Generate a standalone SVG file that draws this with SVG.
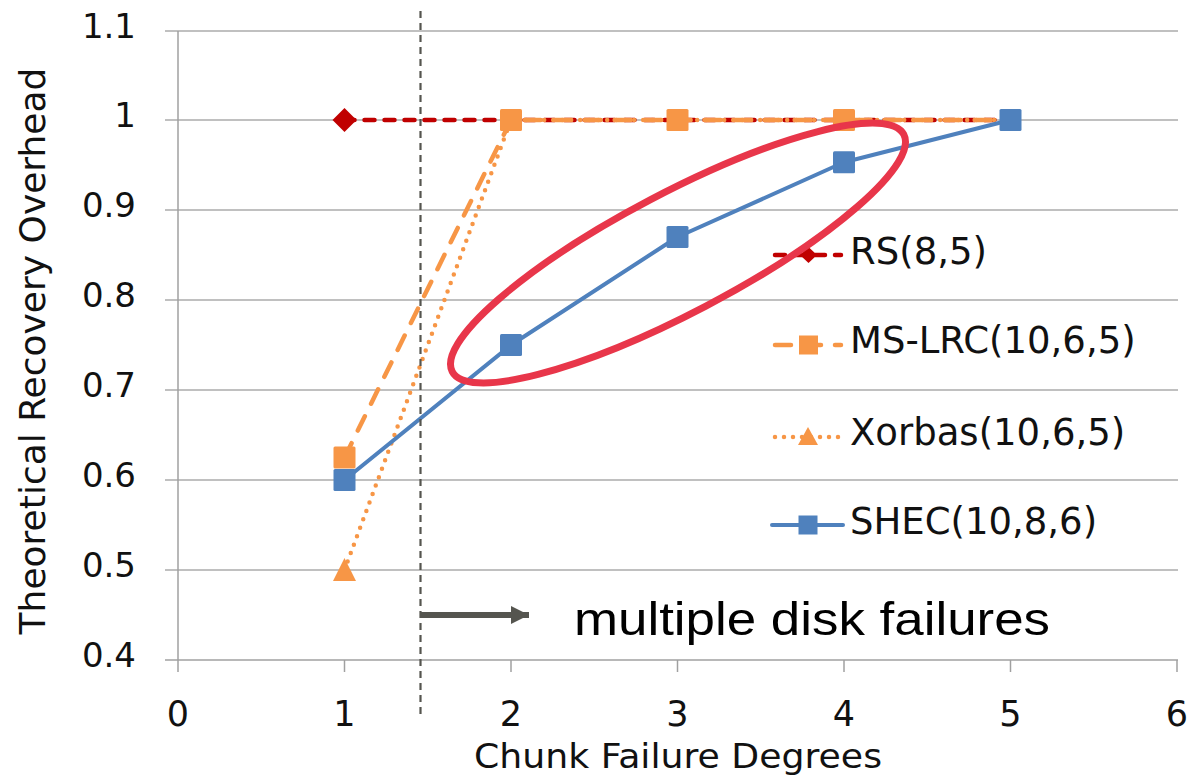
<svg xmlns="http://www.w3.org/2000/svg" width="1192" height="779" viewBox="0 0 1192 779">
  <style>
    .grid { stroke: #ABABAB; stroke-width: 1.5; fill: none; }
    .axis { stroke: #A0A0A0; stroke-width: 1.5; fill: none; }
    .tick { font-family: "DejaVu Sans", Verdana, sans-serif; font-size: 34px; fill: #111; }
    .xtick { font-family: "DejaVu Sans", Verdana, sans-serif; font-size: 35px; fill: #111; text-anchor: middle; }
    .title { font-family: "DejaVu Sans", Verdana, sans-serif; fill: #111; }
    .legend { font-family: "DejaVu Sans", Verdana, sans-serif; font-size: 37px; fill: #111; }
    .rs { stroke: #C00000; stroke-width: 4.5; fill: none; stroke-linecap: round; stroke-dasharray: 10 10; }
    .lrc { stroke: #F79646; stroke-width: 4.5; fill: none; stroke-linecap: round; stroke-dasharray: 16 14; }
    .xor { stroke: #F79646; stroke-width: 4.5; fill: none; stroke-linecap: round; stroke-dasharray: 0 9; }
    .shec { stroke: #4F81BD; stroke-width: 4; fill: none; stroke-linejoin: round; }
    .rsMark { fill: #C00000; }
    .orMark { fill: #F79646; }
    .blMark { fill: #4F81BD; }
  </style>
  <defs>
    <marker id="arrowHead" viewBox="0 0 10 10" refX="10" refY="5" markerWidth="3" markerHeight="3" orient="auto" markerUnits="strokeWidth">
      <path d="M0,0 L10,5 L0,10 Z" fill="#55554F"/>
    </marker>
  </defs>

  <rect width="1192" height="779" fill="#FFFFFF"/>

  <!-- gridlines and axes -->
  <g id="grid">
    <line class="grid" x1="165" y1="31" x2="1178" y2="31"/>
    <line class="grid" x1="165" y1="120" x2="1178" y2="120"/>
    <line class="grid" x1="165" y1="210" x2="1178" y2="210"/>
    <line class="grid" x1="165" y1="300" x2="1178" y2="300"/>
    <line class="grid" x1="165" y1="390" x2="1178" y2="390"/>
    <line class="grid" x1="165" y1="480" x2="1178" y2="480"/>
    <line class="grid" x1="165" y1="570" x2="1178" y2="570"/>
    <line class="axis" x1="165" y1="660" x2="1178" y2="660"/>
    <line class="axis" x1="178" y1="31" x2="178" y2="672"/>
    <line class="axis" x1="344.5" y1="660" x2="344.5" y2="672"/>
    <line class="axis" x1="511" y1="660" x2="511" y2="672"/>
    <line class="axis" x1="677.5" y1="660" x2="677.5" y2="672"/>
    <line class="axis" x1="844" y1="660" x2="844" y2="672"/>
    <line class="axis" x1="1010.5" y1="660" x2="1010.5" y2="672"/>
    <line class="axis" x1="1177" y1="660" x2="1177" y2="672"/>
  </g>

  <!-- axis tick labels -->
  <g id="y-labels" class="tick" text-anchor="end">
    <text x="136" y="38">1.1</text>
    <text x="136" y="127">1</text>
    <text x="136" y="217">0.9</text>
    <text x="136" y="307">0.8</text>
    <text x="136" y="397">0.7</text>
    <text x="136" y="487">0.6</text>
    <text x="136" y="577">0.5</text>
    <text x="136" y="667">0.4</text>
  </g>
  <g id="x-labels">
    <text class="xtick" x="178" y="726">0</text>
    <text class="xtick" x="344.5" y="726">1</text>
    <text class="xtick" x="511" y="726">2</text>
    <text class="xtick" x="677.5" y="726">3</text>
    <text class="xtick" x="844" y="726">4</text>
    <text class="xtick" x="1010.5" y="726">5</text>
    <text class="xtick" x="1177" y="726">6</text>
  </g>

  <!-- axis titles -->
  <g id="axis-titles">
    <text class="title" font-size="36" text-anchor="middle" transform="translate(45,351) rotate(-90)">Theoretical Recovery Overhead</text>
    <text class="title" font-size="33" x="474" y="768" textLength="408" lengthAdjust="spacingAndGlyphs">Chunk Failure Degrees</text>
  </g>

  <!-- data series -->
  <g id="series-rs">
    <polyline class="rs" points="344.5,120 511,120 677.5,120 844,120 1010.5,120"/>
    <path class="rsMark" d="M344.5,108 L356.5,120 L344.5,132 L332.5,120 Z"/>
  </g>
  <g id="series-xorbas">
    <polyline class="xor" points="344.5,570 511,120 677.5,120 844,120 1010.5,120"/>
    <path class="orMark" d="M344.5,558 L356,581 L333,581 Z"/>
  </g>
  <g id="series-mslrc">
    <polyline class="lrc" points="344.5,457.5 511,120 677.5,120 844,120 1010.5,120"/>
    <rect class="orMark" x="333.5" y="446.5" width="22" height="22" rx="1.5"/>
    <rect class="orMark" x="500" y="109" width="22" height="22" rx="1.5"/>
    <rect class="orMark" x="666.5" y="109" width="22" height="22" rx="1.5"/>
    <rect class="orMark" x="833" y="109" width="22" height="22" rx="1.5"/>
  </g>
  <g id="series-shec">
    <polyline class="shec" points="344.5,480 511,345 677.5,237 844,162.3 1010.5,120"/>
    <rect class="blMark" x="333.5" y="469" width="22" height="22" rx="1.5"/>
    <rect class="blMark" x="500" y="334" width="22" height="22" rx="1.5"/>
    <rect class="blMark" x="666.5" y="226" width="22" height="22" rx="1.5"/>
    <rect class="blMark" x="833" y="151.3" width="22" height="22" rx="1.5"/>
    <rect class="blMark" x="999.5" y="109" width="22" height="22" rx="1.5"/>
  </g>

  <!-- legend -->
  <g id="legend">
    <g id="legend-rs">
      <line class="rs" x1="775" y1="255" x2="841" y2="255" stroke-dasharray="12 8"/>
      <path class="rsMark" d="M808.5,247 L817,255 L808.5,263 L800,255 Z"/>
      <text class="legend" x="850" y="264">RS(8,5)</text>
    </g>
    <g id="legend-mslrc">
      <line class="lrc" x1="775" y1="345" x2="841" y2="345" stroke-dasharray="14 40"/>
      <rect class="orMark" x="799" y="335.5" width="19" height="19"/>
      <text class="legend" x="850" y="353">MS-LRC(10,6,5)</text>
    </g>
    <g id="legend-xorbas">
      <line class="xor" x1="775" y1="437" x2="841" y2="437" stroke-dasharray="0 9"/>
      <path class="orMark" d="M808,427 L818,445 L798,445 Z"/>
      <text class="legend" x="850" y="445">Xorbas(10,6,5)</text>
    </g>
    <g id="legend-shec">
      <line class="shec" x1="772" y1="525" x2="843" y2="525" stroke-linecap="round"/>
      <rect class="blMark" x="798.5" y="515.5" width="19" height="19"/>
      <text class="legend" x="850" y="534">SHEC(10,8,6)</text>
    </g>
  </g>

  <!-- single / multiple failure boundary -->
  <g id="connectors">
    <line x1="420.5" y1="11" x2="420.5" y2="718" stroke="#55554F" stroke-width="2.2" stroke-dasharray="7 5"/>
    <line x1="421" y1="615" x2="529" y2="615" stroke="#55554F" stroke-width="6" marker-end="url(#arrowHead)"/>
  </g>
  <g id="annotation">
    <text x="574" y="635" font-family="'Liberation Sans', Arial, sans-serif" font-size="46" fill="#000" textLength="476" lengthAdjust="spacingAndGlyphs">multiple disk failures</text>
  </g>

  <!-- highlight ellipse -->
  <g id="highlight">
    <ellipse cx="678" cy="253" rx="255" ry="60" transform="rotate(-27.7 678 253)" fill="none" stroke="#E8364A" stroke-width="7"/>
  </g>
</svg>
